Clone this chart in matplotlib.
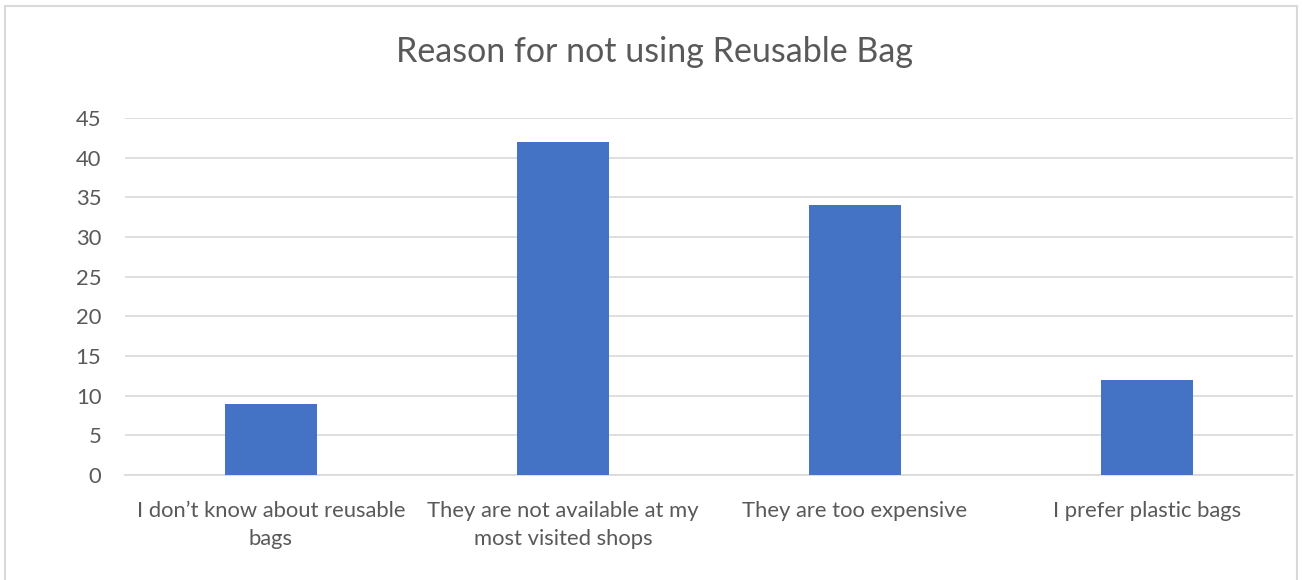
import matplotlib.pyplot as plt
from matplotlib.patches import Rectangle

categories = [
    "I don\u2019t know about reusable\nbags",
    "They are not available at my\nmost visited shops",
    "They are too expensive",
    "I prefer plastic bags",
]
counts = [9, 42, 34, 12]
yticks = [0, 5, 10, 15, 20, 25, 30, 35, 40, 45]

plt.rcParams['font.family'] = ['Lato', 'DejaVu Sans']
text_color = '#595959'
grid_color = '#D9D9D9'

fig = plt.figure(figsize=(13.02, 5.8), dpi=100)
ax = fig.add_axes([125 / 1302, 105 / 580, 1168 / 1302, 357 / 580])

# outer chart frame
fig.patches.append(Rectangle((5 / 1302, -0.05), 1292 / 1302, (580 - 6) / 580 + 0.05,
                             transform=fig.transFigure, fill=False,
                             edgecolor=grid_color, linewidth=1.5))

x = range(len(categories))
ax.bar(x, counts, width=0.315, color='#4472C4', zorder=3)

ax.set_xlim(-0.5, len(categories) - 0.5)
ax.set_ylim(0, 45)
ax.set_yticks(yticks)
ax.set_xticks(list(x))
ax.set_xticklabels(categories, fontsize=15.8, color=text_color, linespacing=1.5)
ax.tick_params(axis='y', labelsize=15.8, labelcolor=text_color, length=0, pad=17)
ax.tick_params(axis='x', length=0, pad=19)
ax.grid(axis='y', color=grid_color, linewidth=1.2, zorder=0)
for side in ['top', 'right', 'left']:
    ax.spines[side].set_visible(False)
ax.spines['bottom'].set_color(grid_color)
ax.spines['bottom'].set_linewidth(1.2)

fig.text(654 / 1302, 1 - 52 / 580, "Reason for not using Reusable Bag",
         ha='center', va='center', fontsize=24.5, color=text_color)

plt.savefig('out.png', dpi=100)
